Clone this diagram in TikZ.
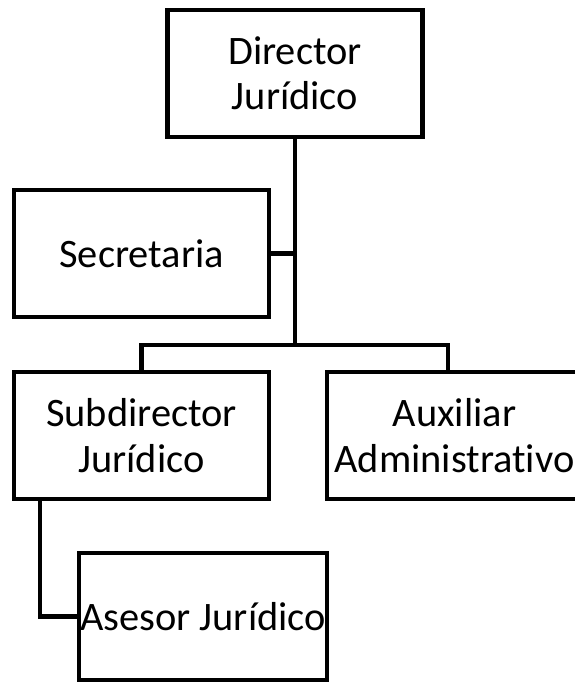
\documentclass[tikz,border=0pt]{standalone}
\usepackage{fontspec}
\setmainfont[Ligatures=NoCommon]{Carlito}
\usepackage{tikz}
\usetikzlibrary{positioning}
\tikzstyle{org edge}=[-,line width=2.8pt,line join=miter]
\tikzstyle{org box}=[draw,line width=2.8pt,outer sep=0pt,align=center,
  minimum width=5.1cm,minimum height=2.54cm,
  font=\fontsize{23}{25.8}\selectfont]
\newcommand{\orgnode}[3][]{
  \node [org box, #1] (#2) {#3}
}

\begin{document}
\begin{tikzpicture}
        \useasboundingbox (0,0) rectangle (11.5,-13.64);
        \orgnode[at={(5.9,-1.47)}]{director}{Director\\Jurídico};
        \orgnode[below left=1.06cm and -2.03cm of director]{secretaria}{Secretaria};
        \orgnode[below=1.1cm of secretaria]{subdirector}{Subdirector\\Jurídico};
        \orgnode[right=1.16cm of subdirector]{auxiliar}{Auxiliar\\Administrativo};
        \orgnode[below right=1.08cm and -3.8cm of subdirector,minimum width=4.96cm,inner xsep=0pt]{asesor}{Asesor Jurídico};
        \coordinate[below=4.16cm of director.south] (bar);
      \draw[org edge] (director.south) -- (bar);
            \draw[org edge] (secretaria.east) -- (secretaria.east -| director.south);
                  \draw[org edge] (subdirector.north) |- (bar) -| ([xshift=-0.13cm]auxiliar.north);
                        \draw[org edge] ([xshift=0.52cm]subdirector.south west) |- (asesor.west);
      \end{tikzpicture}
\end{document}
